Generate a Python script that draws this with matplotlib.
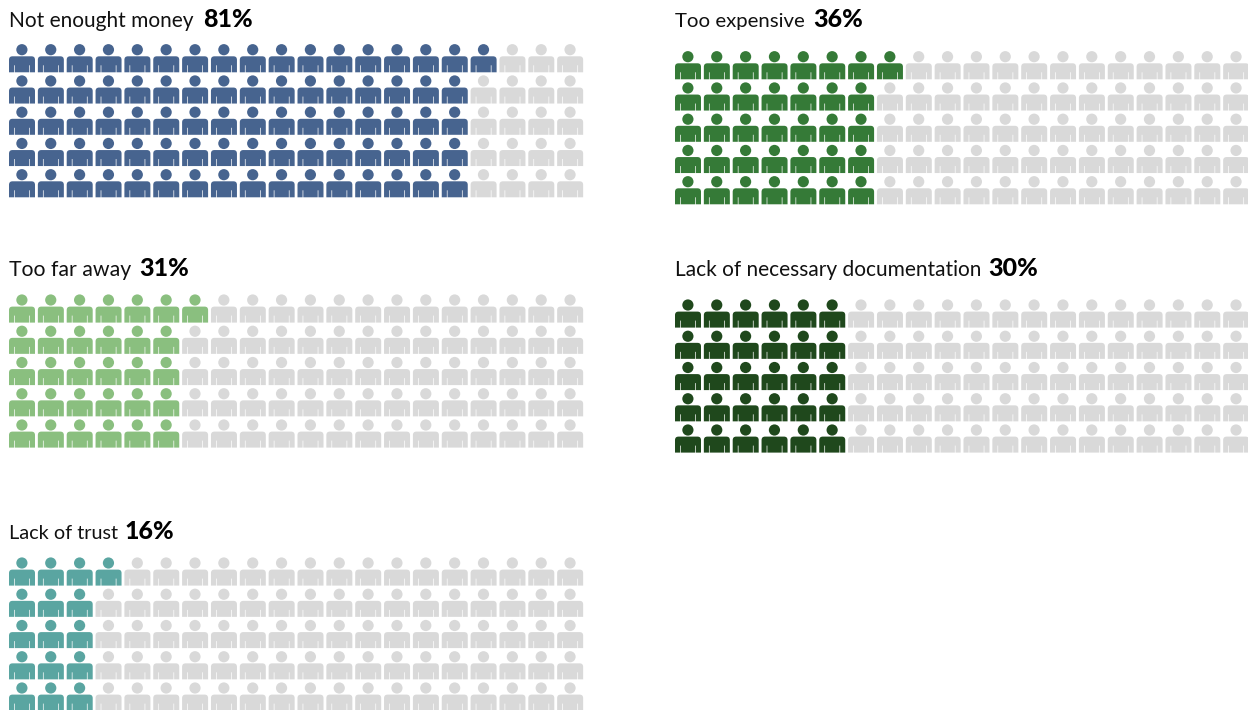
import matplotlib
matplotlib.use("Agg")
import matplotlib.pyplot as plt
from matplotlib.path import Path
from matplotlib.patches import PathPatch, Circle

labels = ["Not enought money", "Too expensive", "Too far away",
          "Lack of necessary documentation", "Lack of trust"]
values = [81, 36, 31, 30, 16]
colors = ["#47648f", "#357a37", "#8abf7f", "#1f481c", "#5aa5a1"]
grey = "#d9d9d9"

# panel layout in pixels: left edge, title baseline, first head centre, x of the bold value
panel_x = [9, 675, 9, 675, 9]
title_y = [27, 27, 276, 276, 539]
head_y = [49.7, 56.7, 300, 305, 563]
bold_x = [203, 813, 139, 988, 124]
# Lato runs a little wider or narrower than the original font depending on the words
label_size = [15, 14.7, 15.3, 15, 14.3]

n_cols = 20
n_rows = 5
pitch_x = 28.85
pitch_y = 31.25


def body_path(x, y):
    # torso 26 wide, 16 high, two thin slits for the arms
    w, h, r = 26, 16, 3.5
    s0, s1, top = 5.1, 5.8, 9
    MT, LT, C3 = Path.MOVETO, Path.LINETO, Path.CURVE3
    pts = [(0, h), (0, r), (0, 0), (r, 0), (w - r, 0), (w, 0), (w, r), (w, h),
           (w - s0, h), (w - s0, top), (w - s1, top), (w - s1, h),
           (s1, h), (s1, top), (s0, top), (s0, h), (0, h)]
    codes = [MT, LT, C3, C3, LT, C3, C3, LT, LT, LT, LT, LT, LT, LT, LT, LT, Path.CLOSEPOLY]
    return Path([(x + a, y + b) for a, b in pts], codes)


def n_filled(value, row):
    # icons fill column by column, top row first
    full, extra = divmod(value, n_rows)
    return full + (1 if row < extra else 0)


fig = plt.figure(figsize=(12.48, 7.10), dpi=100)
ax = fig.add_axes([0, 0, 1, 1])
ax.set_xlim(0, 1248)
ax.set_ylim(710, 0)
ax.axis("off")

for i, label in enumerate(labels):
    ax.text(panel_x[i], title_y[i], label, fontsize=label_size[i], family="Lato", color="#111111", va="baseline")
    ax.text(bold_x[i], title_y[i], f"{values[i]}%", fontsize=18, family="Lato", fontweight="black",
            color="#000000", va="baseline")
    for row in range(n_rows):
        filled = n_filled(values[i], row)
        for col in range(n_cols):
            c = colors[i] if col < filled else grey
            x = panel_x[i] + col * pitch_x
            y = head_y[i] + row * pitch_y
            ax.add_patch(Circle((x + 12.9, y), 5.6, fc=c, ec="none"))
            ax.add_patch(PathPatch(body_path(x, y + 6.6), fc=c, ec="none"))

plt.savefig("out.png", dpi=100)
